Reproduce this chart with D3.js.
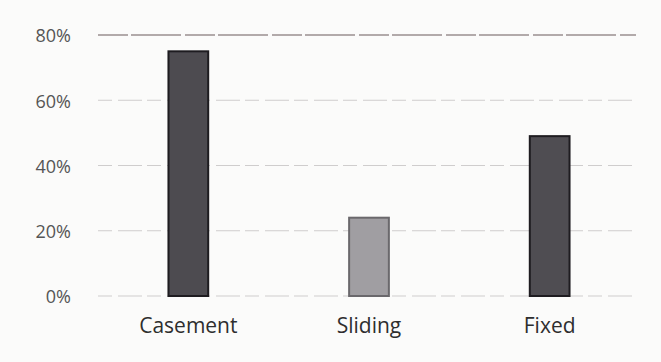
<!DOCTYPE html>
<html><head><meta charset="utf-8">
<script src="https://cdn.jsdelivr.net/npm/d3@7"></script>
<style>body{margin:0;background:#fbfbfa;}svg{display:block;}</style>
</head><body>
<script>
const categories = ["Casement", "Sliding", "Fixed"];
const values = [0.75, 0.24, 0.49];
const barColors = ["#4d4b50", "#a09ea2", "#4f4d52"];
const yTicks = [0, 0.2, 0.4, 0.6, 0.8];

const W = 661, H = 362;
const svg = d3.select("body").append("svg").attr("width", W).attr("height", H);
const x = d3.scaleBand().domain(categories).range([98, 640]).paddingInner(0.78).paddingOuter(0.39);
const y = d3.scaleLinear().domain([0, 0.8]).range([296, 35]);

const grid = svg.append("g");
grid.selectAll("line").data(yTicks).join("line")
  .attr("x1", 98).attr("x2", 636)
  .attr("y1", d => y(d)).attr("y2", d => y(d))
  .attr("stroke", d => d === 0.8 ? "#9a9090" : "#cfcdcd")
  .attr("stroke-width", d => d === 0.8 ? 1.4 : 1)
  .attr("stroke-dasharray", d => d === 0.8 ? "30 3 50 4" : "14 6 24 5");

const yAxis = d3.axisLeft(y).tickValues(yTicks).tickFormat(d3.format(".0%")).tickSize(0).tickPadding(0);
svg.append("g").attr("transform", "translate(71,1)").call(yAxis)
  .call(g => g.select(".domain").remove())
  .call(g => g.selectAll("text").attr("font-family", "Open Sans, sans-serif").attr("font-size", 18).attr("fill", "#555"));

svg.append("g").selectAll("rect").data(categories).join("rect")
  .attr("x", d => x(d)).attr("width", x.bandwidth())
  .attr("y", (d, i) => y(values[i])).attr("height", (d, i) => y(0) - y(values[i]))
  .attr("fill", (d, i) => barColors[i])
  .attr("stroke", (d, i) => i === 1 ? "#6a686c" : "#1e1c20").attr("stroke-width", 2);

const xAxis = d3.axisBottom(x).tickSize(0).tickPadding(0);
svg.append("g").attr("transform", "translate(0,318)").call(xAxis)
  .call(g => g.select(".domain").remove())
  .call(g => g.selectAll("text").attr("font-family", "Open Sans, sans-serif").attr("font-size", 21).attr("fill", "#2e2e2e"));
</script>
</body></html>
